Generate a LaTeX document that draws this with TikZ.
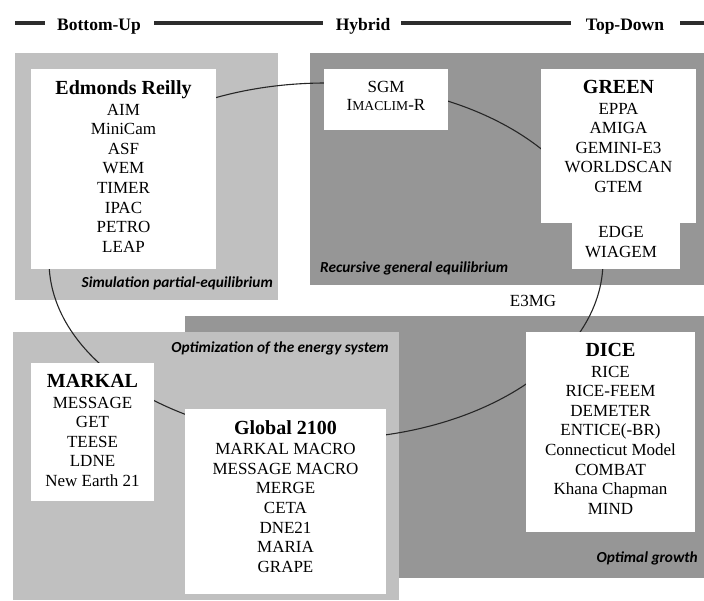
\documentclass[tikz,border=0pt]{standalone}
\usepackage{fontspec}
\setmainfont{Liberation Serif}
\newfontfamily\lblfont{Carlito}
\definecolor{lightreg}{RGB}{192,192,192}
\definecolor{darkreg}{RGB}{150,150,150}
\definecolor{hdrline}{RGB}{45,45,45}
\newcommand\boxtitle[1]{{\fontsize{20}{24}\selectfont\bfseries #1}}
\begin{document}
\begin{tikzpicture}[x=1pt,y=-1pt,
  wbox/.style={fill=white, draw=none, inner sep=0pt, outer sep=0pt},
  txt/.style={font=\fontsize{17}{19.6}\selectfont, align=center, inner sep=0pt, anchor=north},
  reglbl/.style={font=\lblfont\fontsize{15.3}{18}\selectfont\bfseries\itshape, inner sep=0pt},
  hdr/.style={font=\fontsize{17.5}{20}\selectfont\bfseries, inner sep=0pt, anchor=base},
  hline/.style={line width=3.5pt, draw=hdrline},
  ring/.style={line width=1.1pt, draw=black!85},
]
\useasboundingbox (0,0) rectangle (704,600);

% regions
\fill[lightreg] (15,53) rectangle (278,300);
\fill[darkreg] (310,53) rectangle (704,285);
\fill[darkreg] (185,316) rectangle (704,578);
\fill[lightreg] (13,332) rectangle (399,600);

% ring
\draw[ring] (326,261) ellipse [x radius=277pt, y radius=178pt];

% white boxes
\node[wbox, minimum width=185pt, minimum height=200pt] (edm) at (123.5,169) {};
\node[wbox, minimum width=124pt, minimum height=61pt] (sgm) at (386,99.5) {};
\node[wbox, minimum width=155pt, minimum height=154pt] (green) at (618.5,146) {};
\node[wbox, minimum width=108pt, minimum height=48pt] (edge) at (626,245) {};
\node[wbox, minimum width=123pt, minimum height=138pt] (markal) at (92.5,432) {};
\node[wbox, minimum width=201pt, minimum height=185pt] (global) at (285.5,501.5) {};
\node[wbox, minimum width=169pt, minimum height=200pt] (dice) at (610.5,432) {};

% box texts
\node[txt] (edmT) at (123.5,80.5) {\boxtitle{Edmonds Reilly}\\[1pt] AIM\\ MiniCam\\ ASF\\ WEM\\ TIMER\\ IPAC\\ PETRO\\ LEAP};
\node[txt] (sgmT) at (386,81) {SGM\\[-2pt] I{\fontsize{13.6}{16}\selectfont MACLIM}-R};
\node[txt] (greenT) at (618.5,80) {\boxtitle{GREEN}\\[1pt] EPPA\\ AMIGA\\ GEMINI-E3\\ WORLDSCAN\\ GTEM};
\node[txt] (edgeT) at (621,226) {EDGE\\ WIAGEM};
\node[txt] (markalT) at (92.5,374) {\boxtitle{MARKAL}\\[1pt] MESSAGE\\ GET\\ TEESE\\ LDNE\\ New Earth 21};
\node[txt] (globalT) at (285.5,420) {\boxtitle{Global 2100}\\[1pt] MARKAL MACRO\\ MESSAGE MACRO\\ MERGE\\ CETA\\ DNE21\\ MARIA\\ GRAPE};
\node[txt] (diceT) at (610.5,343) {\boxtitle{DICE}\\[1pt] RICE\\ RICE-FEEM\\ DEMETER\\ ENTICE(-BR)\\ Connecticut Model\\ COMBAT\\ Khana Chapman\\ MIND};
\node[font=\fontsize{17}{19.6}\selectfont, inner sep=0pt, anchor=base] (e3mg) at (533,306) {E3MG};

% region labels
\node[reglbl, anchor=base east] (simL) at (273,287) {Simulation partial-equilibrium};
\node[reglbl, anchor=base west] (recL) at (320,272.5) {Recursive general equilibrium};
\node[reglbl, anchor=base east] (optL) at (389,352) {Optimization of the energy system};
\node[reglbl, anchor=base east] (ogL) at (698,562) {Optimal growth};

% header
\draw[hline] (15,23) -- (45,23);
\draw[hline] (154,23) -- (323,23);
\draw[hline] (401,23) -- (571,23);
\draw[hline] (680,23) -- (704,23);
\node[hdr] (bu) at (99,30.5) {Bottom-Up};
\node[hdr] (hy) at (363,30.5) {Hybrid};
\node[hdr] (td) at (625,30.5) {Top-Down};
\end{tikzpicture}
\end{document}
